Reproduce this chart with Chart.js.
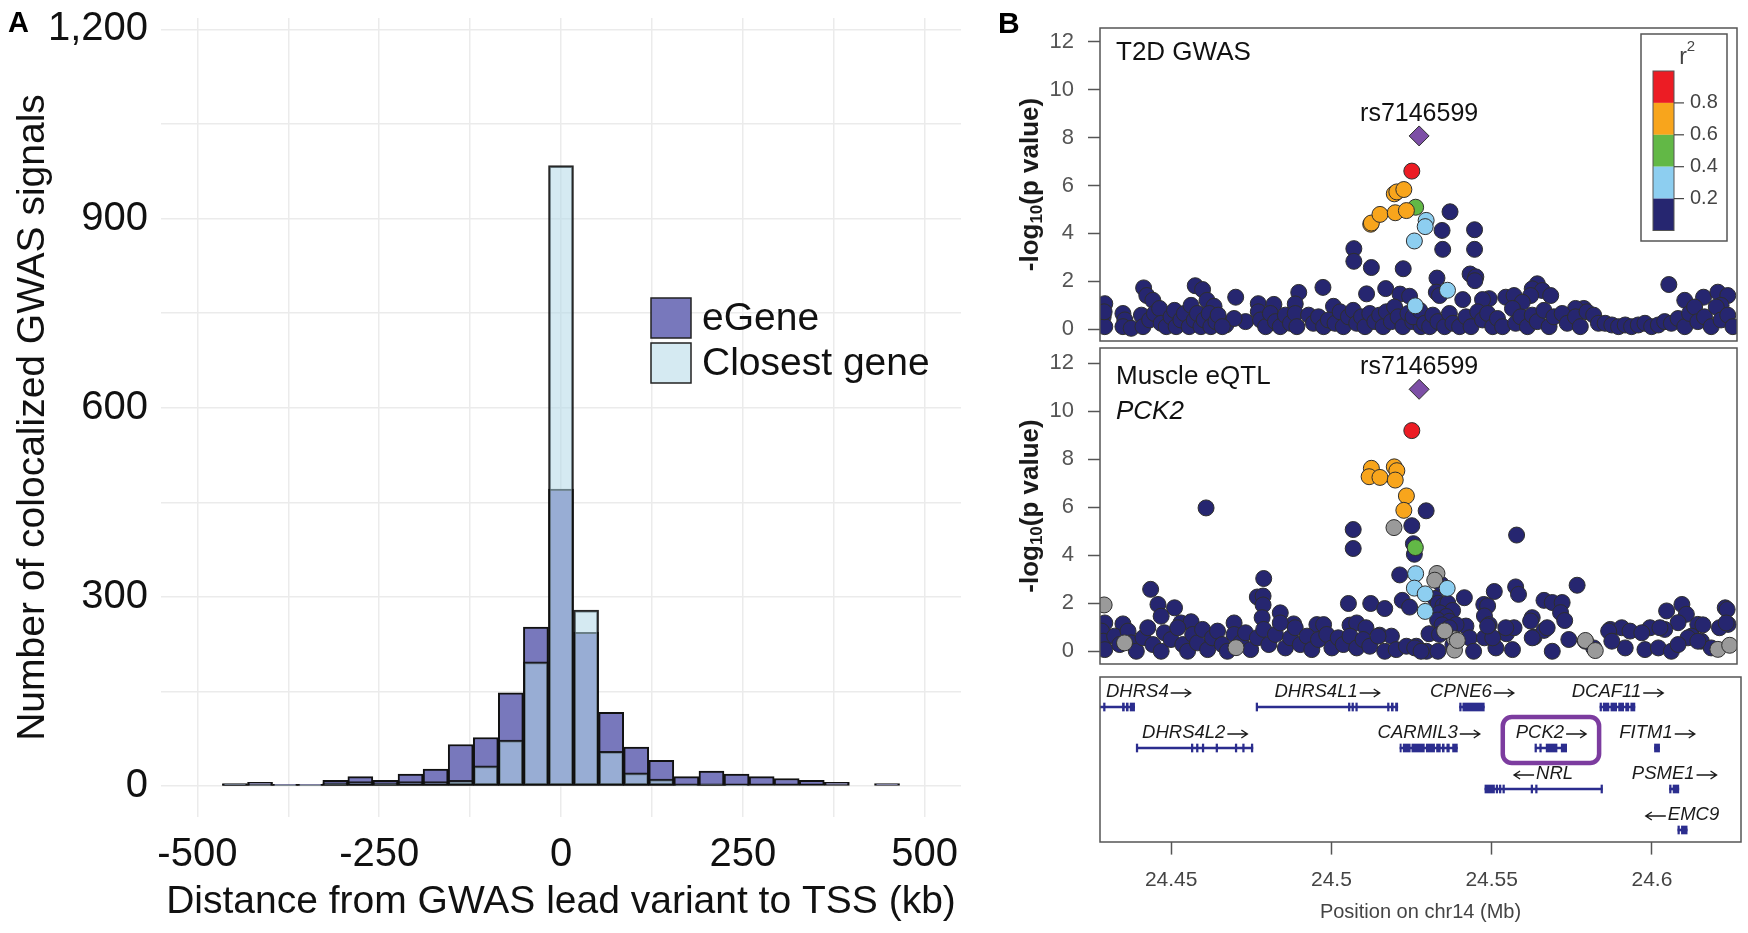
<!DOCTYPE html>
<html>
<head>
<meta charset="utf-8">
<script src="https://cdn.jsdelivr.net/npm/chart.js@4.4.1/dist/chart.umd.min.js"></script>
<style>
html,body{margin:0;padding:0;background:#fff;}
body{width:1748px;height:933px;position:relative;overflow:hidden;font-family:"Liberation Sans",Arial,Helvetica,sans-serif;}
canvas{position:absolute;}
.plab{position:absolute;font-weight:bold;line-height:1;color:#000;z-index:5;}
</style>
</head>
<body>
<canvas id="cA" width="1000" height="957" style="left:0;top:-24px;"></canvas>
<canvas id="cB1" width="748" height="391" style="left:1000px;top:-10px;"></canvas>
<canvas id="cB2" width="748" height="394" style="left:1000px;top:310px;"></canvas>
<canvas id="cB3" width="748" height="263" style="left:1000px;top:670px;"></canvas>
<div class="plab" style="left:8px;top:8px;font-size:29px;">A</div>
<div class="plab" style="left:998px;top:8px;font-size:30px;">B</div>
<script>
// ===================== PANEL A DATA =====================
const binCenters = [-448.3,-413.8,-379.3,-344.8,-310.3,-275.9,-241.4,-206.9,-172.4,-137.9,-103.4,-69.0,-34.5,0,34.5,69.0,103.4,137.9,172.4,206.9,241.4,275.9,310.3,344.8,379.3,413.8,448.3];
const eGeneCounts   = [4,6,3,3,9,15,9,19,27,66,77,148,252,471,244,117,62,41,15,24,19,15,12,9,6,0,4];
const closestCounts = [3,2,1,1,5,7,5,7,7,9,32,73,197,984,279,55,21,11,2,3,1,0,0,0,0,0,0];
const xTickValuesA = [-500,-250,0,250,500];
const xTickLabelsA = ['-500','-250','0','250','500'];
const xGridValuesA = [-500,-375,-250,-125,0,125,250,375,500];
const yTickValuesA = [0,300,600,900,1200];
const yTickLabelsA = ['0','300','600','900','1,200'];
const yGridValuesA = [0,150,300,450,600,750,900,1050,1200];
const seriesNamesA = ['eGene','Closest gene'];

// ===================== PANEL B DATA =====================
const leadSnp = 'rs7146599';
const xRangeB = [24.4278, 24.6278];
const yTickValuesB = [0,2,4,6,8,10,12];
const xTickValuesB = [24.45,24.5,24.55,24.6];
const xTickLabelsB = ['24.45','24.5','24.55','24.6'];
const r2Breaks = ['0.2','0.4','0.6','0.8'];

// T2D GWAS : [position Mb, -log10 p]
const t2dLead = [[24.5280,8.07]];
const t2dRed = [[24.5257,6.60]];
const t2dOrange = [[24.5128,4.38],[24.5130,4.43],[24.5157,4.79],[24.5202,5.65],[24.5210,5.73],[24.5232,5.83],[24.5205,4.86],[24.5240,4.95]];
const t2dGreen = [[24.5269,5.09]];
const t2dLightBlue = [[24.5302,4.54],[24.5299,4.28],[24.5265,3.68],[24.5369,1.62],[24.5268,0.97]];
const t2dNavy = [
 [24.5377,4.90],[24.5352,4.12],[24.5454,4.15],[24.5075,3.36],[24.5075,2.83],[24.5354,3.33],[24.5454,3.33],[24.5130,2.57],[24.5230,2.52],[24.5336,2.13],[24.5440,2.30],[24.5458,2.18],[24.5455,2.02],
 [24.5175,1.69],[24.5220,1.46],[24.5115,1.47],[24.5250,1.37],[24.4978,1.74],[24.4902,1.53],[24.4891,1.05],[24.4704,1.33],[24.4577,1.81],[24.4600,1.65],[24.4415,1.72],[24.4425,1.40],[24.4444,1.20],[24.4614,1.20],[24.4636,0.95],[24.4293,1.06],[24.5011,0.95],[24.4775,1.06],[24.4824,1.03],
 [24.5334,1.54],[24.5344,1.40],[24.5417,1.23],[24.5651,1.89],[24.5635,1.68],[24.5667,1.61],[24.5693,1.40],[24.5630,1.40],[24.6064,1.86],[24.6114,1.20],[24.6173,1.33],[24.6218,1.54],[24.6249,1.40],[24.6228,0.99],[24.5500,1.27],[24.5479,1.23],[24.5552,1.33],[24.5578,1.40],[24.5604,1.12],[24.5797,0.86],[24.5771,0.86],
 [24.4735,0.31],[24.4673,0.17],[24.4699,0.44],
 [24.4288,0.51],[24.4293,0.10],[24.4291,0.72],[24.4350,0.65],[24.4356,0.38],[24.4350,0.10],[24.4376,0.03],[24.4408,0.58],[24.4413,0.10],[24.4434,0.38],[24.4449,0.65],[24.4465,0.86],[24.4470,0.24],[24.4486,0.10],[24.4501,0.51],[24.4512,0.78],[24.4517,0.10],[24.4532,0.38],[24.4543,0.65],[24.4558,0.10],[24.4564,0.99],[24.4574,0.38],[24.4584,0.65],[24.4595,0.10],[24.4605,0.38],[24.4621,0.65],[24.4626,0.10],[24.4642,0.31],[24.4649,0.58],[24.4662,0.10],
 [24.4775,0.72],[24.4782,0.38],[24.4798,0.10],[24.4813,0.65],[24.4829,0.31],[24.4844,0.10],[24.4860,0.58],[24.4876,0.24],[24.4891,0.65],[24.4896,0.10],
 [24.4933,0.58],[24.4948,0.24],[24.4964,0.51],[24.4980,0.10],[24.4995,0.38],[24.5016,0.24],[24.5032,0.72],[24.5042,0.10],[24.5058,0.51],[24.5073,0.78],[24.5084,0.24],[24.5099,0.51],[24.5110,0.10],[24.5125,0.65],[24.5141,0.31],[24.5156,0.58],[24.5167,0.10],[24.5177,0.72],[24.5193,0.31],[24.5203,0.92],[24.5214,0.51],[24.5229,0.10],[24.5245,0.65],[24.5260,0.31],[24.5276,0.51],[24.5286,0.10],
 [24.5261,0.51],[24.5282,0.78],[24.5297,0.24],[24.5313,0.10],[24.5323,0.58],[24.5339,0.31],[24.5360,0.10],[24.5375,0.65],[24.5386,0.24],[24.5407,0.10],[24.5427,0.51],[24.5443,0.10],[24.5464,0.72],[24.5479,0.38],[24.5495,0.65],[24.5511,0.10],[24.5526,0.44],[24.5542,0.10],[24.5573,0.86],[24.5583,0.24],[24.5599,0.51],[24.5620,0.10],[24.5635,0.58],[24.5651,0.31],[24.5672,0.78],[24.5688,0.10],[24.5703,0.51],[24.5729,0.65],[24.5745,0.24],[24.5771,0.51],[24.5786,0.10],[24.5807,0.72],[24.5828,0.58],[24.5843,0.24],
 [24.5864,0.24],[24.5885,0.17],[24.5906,0.10],[24.5927,0.17],[24.5947,0.10],[24.5968,0.17],[24.5989,0.24],[24.6010,0.10],[24.6031,0.17],[24.6051,0.31],[24.6072,0.24],[24.6093,0.44],[24.6114,0.10],[24.6129,0.65],[24.6145,0.92],[24.6155,0.31],[24.6176,0.51],[24.6197,0.10],[24.6213,0.92],[24.6228,0.38],[24.6249,0.58],[24.6265,0.10]
];

// Muscle eQTL PCK2 : [position Mb, -log10 p]
const eqtlLead = [[24.5280,10.91]];
const eqtlRed = [[24.5257,9.19]];
const eqtlOrange = [[24.5130,7.62],[24.5123,7.27],[24.5157,7.24],[24.5202,7.68],[24.5210,7.52],[24.5205,7.13],[24.5240,6.47],[24.5232,5.87]];
const eqtlGreen = [[24.5268,4.32]];
const eqtlLightBlue = [[24.5269,3.23],[24.5265,2.63],[24.5299,2.39],[24.5299,1.66],[24.5368,2.62]];
const eqtlGray = [[24.5201,5.15],[24.5336,3.24],[24.5329,2.96],[24.4291,1.93],[24.5391,0.52],[24.5391,0.05],[24.5802,0.45],[24.5833,0.03],[24.6218,0.08],[24.6255,0.25],[24.5360,0.85],[24.5400,0.45],[24.4705,0.15],[24.4355,0.35]];
const eqtlNavy = [
 [24.4611,5.97],[24.5073,5.07],[24.5073,4.28],[24.5257,5.23],[24.5302,5.85],[24.5262,4.48],[24.5265,4.04],[24.5219,3.18],[24.5586,4.84],[24.5776,2.75],[24.5583,2.68],[24.5592,2.37],[24.5516,2.49],[24.5422,2.23],[24.5349,2.79],[24.5227,2.12],[24.5250,1.84],[24.5058,1.99],[24.5128,1.99],[24.5172,1.78],
 [24.4792,3.03],[24.4772,2.26],[24.4790,2.30],[24.4790,1.93],[24.4787,1.40],[24.4844,1.60],[24.4886,1.14],[24.4437,2.58],[24.4460,1.95],[24.4512,1.81],[24.4470,1.46],
 [24.5330,2.20],[24.5340,2.00],[24.5355,1.90],[24.5370,2.00],[24.5385,1.70],[24.5345,1.60],[24.5365,1.45],[24.5338,1.30],[24.5375,1.25],[24.5352,1.10],
 [24.5483,1.95],[24.5495,1.89],[24.5485,1.47],[24.5500,1.11],[24.5672,2.12],[24.5698,2.03],[24.5729,2.03],[24.5724,1.61],[24.5737,1.28],[24.5635,1.40],[24.5630,1.26],[24.6057,1.68],[24.6105,1.95],[24.6119,1.54],[24.6093,1.19],[24.6155,1.12],[24.6171,1.10],[24.6241,1.81],[24.6247,1.74],[24.6250,1.12],[24.6223,0.98],
 [24.5880,0.91],[24.5916,0.98],[24.5942,0.84],[24.6005,0.98],[24.6051,0.91],[24.6135,0.63],[24.5427,1.05],[24.5396,1.11],[24.5438,0.56],[24.5375,0.98],[24.5311,0.73],[24.5344,0.70],[24.5386,0.28],[24.5451,0.00],[24.5521,0.14],[24.5573,0.07],[24.5554,0.73],[24.5578,0.98],[24.5641,0.59],[24.5672,0.87],[24.5698,0.00],[24.5750,0.49],[24.5802,0.42],[24.5828,0.14],[24.5875,0.84],[24.5927,0.14],[24.5989,0.07],[24.6031,0.14],[24.6072,0.00],[24.6124,0.56],[24.6166,0.42],[24.6197,0.14],[24.5271,0.21],[24.5303,0.00],[24.5339,0.00],
 [24.5485,0.56],[24.5511,0.56],[24.5495,1.05],[24.5552,0.98],[24.5635,0.56],[24.5682,0.98],[24.5885,0.42],[24.5979,0.77],[24.6036,0.98],[24.6093,0.28],[24.6155,0.42],[24.6244,1.18],
 [24.4293,1.18],[24.4350,1.14],[24.4532,1.18],[24.4564,1.23],[24.4699,1.18],[24.4959,1.11],[24.4980,1.11],[24.5063,1.09],[24.5084,1.18],[24.5113,0.98],[24.5156,0.67],[24.5193,0.63],
 [24.4283,0.84],[24.4288,0.42],[24.4293,0.07],[24.4324,0.63],[24.4340,0.28],[24.4366,0.84],[24.4376,0.35],[24.4392,0.00],[24.4413,0.56],[24.4428,0.98],[24.4444,0.28],[24.4470,0.00],[24.4480,0.77],[24.4501,0.49],[24.4522,0.98],[24.4538,0.28],[24.4553,0.00],[24.4569,0.70],[24.4584,0.35],[24.4600,0.91],[24.4616,0.07],[24.4631,0.56],[24.4647,0.84],[24.4662,0.28],[24.4678,0.00],[24.4699,0.70],[24.4720,0.35],[24.4735,0.77],[24.4751,0.07],[24.4772,0.56],[24.4792,0.91],[24.4808,0.28],[24.4829,0.70],[24.4844,1.18],[24.4860,0.14],[24.4876,0.56],[24.4891,0.98],[24.4907,0.28],[24.4928,0.63],[24.4943,0.07],[24.4964,0.49],[24.4990,0.70],[24.5006,0.14],[24.5026,0.56],[24.5042,0.28],[24.5063,0.63],[24.5084,0.14],[24.5104,0.49],[24.5125,0.21],[24.5151,0.63],[24.5172,0.00],[24.5208,0.07],[24.5240,0.21],[24.5266,0.14],[24.5286,0.00]
];

// Genes
const geneNames  = ['DHRS4','DHRS4L1','CPNE6','DCAF11','DHRS4L2','CARMIL3','PCK2','FITM1','NRL','PSME1','EMC9'];
const geneStart  = [24.4225,24.4766,24.5400,24.5838,24.4392,24.5214,24.5636,24.6008,24.5479,24.6055,24.6081];
const geneEnd    = [24.4386,24.5207,24.5477,24.5947,24.4755,24.5393,24.5734,24.6024,24.5845,24.6084,24.6110];
const geneStrand = ['+','+','+','+','+','+','+','+','-','+','-'];
const geneRow    = [1,1,1,1,2,2,2,2,3,3,4];
const geneExons  = [
 [[24.4289,24.4294],[24.4348,24.4354],[24.4360,24.4366],[24.4372,24.4386]],
 [[24.4765,24.4770],[24.5053,24.5058],[24.5064,24.5069],[24.5076,24.5081],[24.5175,24.5180],[24.5187,24.5193],[24.5200,24.5207]],
 [[24.5400,24.5405],[24.5410,24.5477]],
 [[24.5838,24.5843],[24.5848,24.5866],[24.5872,24.5890],[24.5896,24.5912],[24.5918,24.5928],[24.5934,24.5947]],
 [[24.4391,24.4396],[24.4563,24.4568],[24.4579,24.4584],[24.4597,24.4602],[24.4640,24.4645],[24.4700,24.4705],[24.4723,24.4728],[24.4750,24.4755]],
 [[24.5214,24.5218],[24.5224,24.5246],[24.5251,24.5290],[24.5296,24.5322],[24.5328,24.5340],[24.5346,24.5352],[24.5360,24.5368],[24.5378,24.5393]],
 [[24.5635,24.5640],[24.5650,24.5655],[24.5670,24.5704],[24.5717,24.5734]],
 [[24.6008,24.6024]],
 [[24.5479,24.5509],[24.5514,24.5519],[24.5524,24.5529],[24.5535,24.5540],[24.5623,24.5628],[24.5637,24.5642],[24.5841,24.5846]],
 [[24.6055,24.6060],[24.6066,24.6084]],
 [[24.6081,24.6086],[24.6092,24.6110]]
];
const highlightGene = 'PCK2';

// ===================== STYLE =====================
const FONT = '"Liberation Sans", Arial, Helvetica, sans-serif';
Chart.defaults.font.family = FONT;
const COL = {
  eGene:'rgb(120,120,188)', closest:'rgba(179,217,231,0.55)', grid:'#EBEBEB',
  lead:'#7D4FA6', red:'#EC1C24', orange:'#F8A51C', green:'#62B846', lightblue:'#8DCEF0', navy:'#262670', gray:'#9A9A9A',
  gene:'#2B2D8E', box:'#555', purple:'#7C3C9F'
};

// ===================== PANEL A =====================
const legendA = {
  id:'legendA',
  afterDraw(chart){
    const ctx = chart.ctx, top = chart.chartArea.top;
    ctx.save();
    const items = [{fill:COL.eGene, name:seriesNamesA[0], dy:280},{fill:'rgb(213,234,242)', name:seriesNamesA[1], dy:325}];
    items.forEach(it=>{
      const y = top + it.dy;
      ctx.fillStyle = it.fill; ctx.fillRect(651,y,40,40);
      ctx.strokeStyle = '#222'; ctx.lineWidth = 1.5; ctx.strokeRect(651,y,40,40);
      ctx.fillStyle = '#111'; ctx.font = '39px '+FONT; ctx.textBaseline='middle'; ctx.textAlign='left';
      ctx.fillText(it.name, 702, y+21);
    });
    ctx.restore();
  }
};

new Chart(document.getElementById('cA'), {
  type:'bar',
  data:{datasets:[
    {label:seriesNamesA[1], data:binCenters.map((x,i)=>({x:x,y:closestCounts[i]})), backgroundColor:COL.closest, borderColor:'rgba(15,15,15,0.9)', borderWidth:2, borderSkipped:false, grouped:false, barPercentage:1, categoryPercentage:1, order:0},
    {label:seriesNamesA[0], data:binCenters.map((x,i)=>({x:x,y:eGeneCounts[i]})), backgroundColor:COL.eGene, borderColor:'#111', borderWidth:2, borderSkipped:false, grouped:false, barPercentage:1, categoryPercentage:1, order:1}
  ]},
  options:{
    responsive:false, animation:false, devicePixelRatio:1,
    layout:{padding:{left:0,top:42,right:39,bottom:0}},
    plugins:{legend:{display:false},tooltip:{enabled:false}},
    scales:{
      x:{type:'linear', min:-550, max:550, offset:false,
        afterBuildTicks:s=>{s.ticks = xGridValuesA.map(v=>({value:v}));},
        afterFit:s=>{s.height = 116;},
        ticks:{autoSkip:false, maxRotation:0, padding:14, color:'#111', font:{size:40},
          callback:v=>{const i=xTickValuesA.indexOf(v); return i>=0?xTickLabelsA[i]:'';}},
        grid:{color:COL.grid, lineWidth:1.5, drawTicks:false, offset:false},
        border:{display:false},
        title:{display:true, text:'Distance from GWAS lead variant to TSS (kb)', color:'#111', font:{size:39}, padding:{top:0,bottom:7}}
      },
      y:{type:'linear', min:-49, max:1218,
        afterBuildTicks:s=>{s.ticks = yGridValuesA.map(v=>({value:v}));},
        afterFit:s=>{s.width = 161;},
        ticks:{autoSkip:false, padding:13, color:'#111', font:{size:40},
          callback:v=>{const i=yTickValuesA.indexOf(v); return i>=0?yTickLabelsA[i]:'';}},
        grid:{color:COL.grid, lineWidth:1.5, drawTicks:false},
        border:{display:false},
        title:{display:true, text:'Number of colocalized GWAS signals', color:'#111', font:{size:39}, padding:{top:10,bottom:0}}
      }
    }
  },
  plugins:[legendA]
});

// ===================== PANEL B scatter panels =====================
function pts(arr){ return arr.map(p=>({x:p[0], y:p[1]})); }
function sds(label, arr, color, style, r){
  return {label:label, data:pts(arr), backgroundColor:color, borderColor:'#2e2e2e', borderWidth:1,
          pointStyle:style||'circle', pointRadius:r||8, pointHoverRadius:r||8};
}
function drawYTitle(ctx, cx, cy){
  ctx.save();
  ctx.translate(cx, cy); ctx.rotate(-Math.PI/2);
  ctx.fillStyle = '#1a1a1a'; ctx.textBaseline = 'middle'; ctx.textAlign = 'left';
  const big = 'bold 26px '+FONT, small = 'bold 17px '+FONT;
  ctx.font = big; const w1 = ctx.measureText('-log').width, w3 = ctx.measureText('(p value)').width;
  ctx.font = small; const w2 = ctx.measureText('10').width;
  let x = -(w1+w2+w3)/2;
  ctx.font = big; ctx.fillText('-log', x, 0); x += w1;
  ctx.font = small; ctx.fillText('10', x, 6); x += w2;
  ctx.font = big; ctx.fillText('(p value)', x, 0);
  ctx.restore();
}
const scatterDeco = {
  id:'scatterDeco',
  afterDatasetsDraw(chart, args, opts){
    const ctx = chart.ctx, a = chart.chartArea, xs = chart.scales.x, ys = chart.scales.y;
    ctx.save();
    ctx.strokeStyle = COL.box; ctx.lineWidth = 1.5;
    ctx.strokeRect(a.left, a.top, a.right-a.left, a.bottom-a.top);
    drawYTitle(ctx, 31, (a.top+a.bottom)/2);
    ctx.fillStyle = '#111'; ctx.textBaseline='middle'; ctx.textAlign='left';
    (opts.labels||[]).forEach((t,i)=>{
      ctx.font = (opts.italic && opts.italic[i] ? 'italic ' : '') + '26px ' + FONT;
      ctx.fillText(t, a.left+16, a.top+opts.labelOffsets[i]);
    });
    const lead = opts.lead;
    ctx.font = '25px '+FONT; ctx.textAlign='center';
    ctx.fillText(leadSnp, xs.getPixelForValue(lead[0]), ys.getPixelForValue(lead[1]) - 22);
    if (opts.r2legend){
      const bx = a.right-96, by = a.top+6, bw = 86, bh = 207;
      ctx.fillStyle = '#fff'; ctx.fillRect(bx,by,bw,bh);
      ctx.strokeStyle = COL.box; ctx.lineWidth = 1.5; ctx.strokeRect(bx,by,bw,bh);
      const segCols = [COL.red, COL.orange, COL.green, COL.lightblue, COL.navy];
      const barX = bx+12, barW = 21, barTop = by+37, segH = 31.9;
      segCols.forEach((c,i)=>{ ctx.fillStyle=c; ctx.fillRect(barX, barTop+i*segH, barW, segH); });
      ctx.strokeStyle = '#555'; ctx.lineWidth=1; ctx.strokeRect(barX, barTop, barW, segH*5);
      ctx.fillStyle = '#444'; ctx.font = '20px '+FONT; ctx.textAlign='left'; ctx.textBaseline='middle';
      const labelsTopDown = r2Breaks.slice().reverse();
      labelsTopDown.forEach((t,i)=>{
        const y = barTop + (i+1)*segH;
        ctx.beginPath(); ctx.moveTo(barX+barW, y); ctx.lineTo(barX+barW+10, y); ctx.strokeStyle='#444'; ctx.lineWidth=1.2; ctx.stroke();
        ctx.fillText(t, barX+barW+16, y);
      });
      ctx.textAlign='center';
      ctx.font = '23px '+FONT; ctx.fillText('r', bx+42, by+24);
      ctx.font = '15px '+FONT; ctx.fillText('2', bx+50, by+13);
    }
    ctx.restore();
  }
};
function scatterOptions(yMin, yMax, padTop, padBottom, deco){
  return {
    responsive:false, animation:false, devicePixelRatio:1,
    layout:{padding:{left:0,top:padTop,right:7,bottom:padBottom}},
    plugins:{legend:{display:false}, tooltip:{enabled:false}, scatterDeco:deco},
    scales:{
      x:{type:'linear', min:xRangeB[0], max:xRangeB[1], display:false},
      y:{type:'linear', min:yMin, max:yMax,
        afterBuildTicks:s=>{s.ticks = yTickValuesB.map(v=>({value:v}));},
        afterFit:s=>{s.width = 100;},
        ticks:{autoSkip:false, padding:14, color:'#555', font:{size:22}, callback:v=>String(v)},
        grid:{drawOnChartArea:false, drawTicks:true, tickLength:12, tickColor:'#555', tickWidth:1.5},
        border:{display:false}
      }
    }
  };
}

new Chart(document.getElementById('cB1'), {
  type:'scatter',
  data:{datasets:[
    sds('lead', t2dLead, COL.lead, 'rectRot', 10),
    sds('r2 0.8-1', t2dRed, COL.red),
    sds('r2 0.6-0.8', t2dOrange, COL.orange),
    sds('r2 0.4-0.6', t2dGreen, COL.green),
    sds('r2 0.2-0.4', t2dLightBlue, COL.lightblue),
    sds('r2 0-0.2', t2dNavy, COL.navy)
  ]},
  options:scatterOptions(-0.5, 12.58, 38, 40, {labels:['T2D GWAS'], italic:[false], labelOffsets:[25], lead:t2dLead[0], r2legend:true}),
  plugins:[scatterDeco]
});

new Chart(document.getElementById('cB2'), {
  type:'scatter',
  data:{datasets:[
    sds('lead', eqtlLead, COL.lead, 'rectRot', 10),
    sds('r2 0.8-1', eqtlRed, COL.red),
    sds('r2 0.6-0.8', eqtlOrange, COL.orange),
    sds('r2 0.4-0.6', eqtlGreen, COL.green),
    sds('r2 0.2-0.4', eqtlLightBlue, COL.lightblue),
    sds('r2 NA', eqtlGray, COL.gray),
    sds('r2 0-0.2', eqtlNavy, COL.navy)
  ]},
  options:scatterOptions(-0.53, 12.63, 38, 40, {labels:['Muscle eQTL','PCK2'], italic:[false,true], labelOffsets:[29,64], lead:eqtlLead[0], r2legend:false}),
  plugins:[scatterDeco]
});

// ===================== PANEL B gene track =====================
function drawArrow(ctx, x0, x1, y){
  ctx.beginPath(); ctx.moveTo(x0, y); ctx.lineTo(x1, y);
  const d = x1 > x0 ? -1 : 1;
  ctx.moveTo(x1 + d*6, y-4); ctx.lineTo(x1, y); ctx.lineTo(x1 + d*6, y+4);
  ctx.stroke();
}
const geneLabels = {
  id:'geneLabels',
  afterDatasetsDraw(chart){
    const ctx = chart.ctx, a = chart.chartArea, xs = chart.scales.x, ys = chart.scales.y;
    ctx.save();
    ctx.strokeStyle = COL.box; ctx.lineWidth = 1.5;
    ctx.strokeRect(a.left, a.top, a.right-a.left, a.bottom-a.top);
    ctx.font = 'italic 18.5px '+FONT; ctx.textBaseline = 'middle'; ctx.textAlign='left';
    const arrowW = 20, gap = 2;
    geneNames.forEach((g,i)=>{
      const wn = ctx.measureText(g).width;
      const w = wn + gap + arrowW;
      const cx = xs.getPixelForValue((geneStart[i]+geneEnd[i])/2);
      let left = cx - w/2;
      if (left < a.left+6) left = a.left+6;
      if (left + w > a.right-6) left = a.right-6-w;
      const rowY = ys.getPixelForValue(geneRow[i]);
      const ty = rowY-15;
      ctx.fillStyle = '#1a1a1a'; ctx.strokeStyle = '#1a1a1a'; ctx.lineWidth = 1.4;
      if (geneStrand[i] === '+'){
        ctx.fillText(g, left, ty);
        drawArrow(ctx, left+wn+gap, left+w, ty+1);
      } else {
        drawArrow(ctx, left+arrowW, left, ty+1);
        ctx.fillText(g, left+arrowW+gap, ty);
      }
      if (g === highlightGene){
        ctx.save();
        ctx.strokeStyle = COL.purple; ctx.lineWidth = 4.5;
        ctx.beginPath();
        ctx.roundRect(left-13, rowY-31, w+26, 46, 9);
        ctx.stroke();
        ctx.restore();
      }
    });
    ctx.restore();
  }
};
const intronBars = geneNames.map((g,i)=>({x:[geneStart[i], geneEnd[i]], y:geneRow[i]}));
const exonBars = [];
geneExons.forEach((ex,i)=>ex.forEach(e=>exonBars.push({x:[e[0],e[1]], y:geneRow[i]})));

new Chart(document.getElementById('cB3'), {
  type:'bar',
  data:{datasets:[
    {label:'exons', data:exonBars, backgroundColor:COL.gene, barThickness:8, grouped:false, clip:0, borderWidth:0, order:0},
    {label:'genes', data:intronBars, backgroundColor:COL.gene, barThickness:2, grouped:false, clip:0, borderWidth:0, order:1}
  ]},
  options:{
    indexAxis:'y', responsive:false, animation:false, devicePixelRatio:1,
    layout:{padding:{left:100,top:7,right:7,bottom:0}},
    plugins:{legend:{display:false}, tooltip:{enabled:false}},
    scales:{
      x:{type:'linear', min:xRangeB[0], max:xRangeB[1], position:'bottom', offset:false,
        afterBuildTicks:s=>{s.ticks = xTickValuesB.map(v=>({value:v}));},
        afterFit:s=>{s.height = 91;},
        ticks:{autoSkip:false, maxRotation:0, padding:13, color:'#444', font:{size:21},
          callback:v=>{const i=xTickValuesB.findIndex(t=>Math.abs(t-v)<1e-9); return i>=0?xTickLabelsB[i]:'';}},
        grid:{drawOnChartArea:false, drawTicks:true, tickLength:12.6, tickColor:'#555', tickWidth:1.5, offset:false},
        border:{display:false},
        title:{display:true, text:'Position on chr14 (Mb)', color:'#444', font:{size:20}, padding:{top:0,bottom:9}}
      },
      y:{type:'linear', min:0.268, max:4.293, reverse:true, display:false, offset:false, grid:{offset:false}}
    }
  },
  plugins:[geneLabels]
});
</script>
</body>
</html>
